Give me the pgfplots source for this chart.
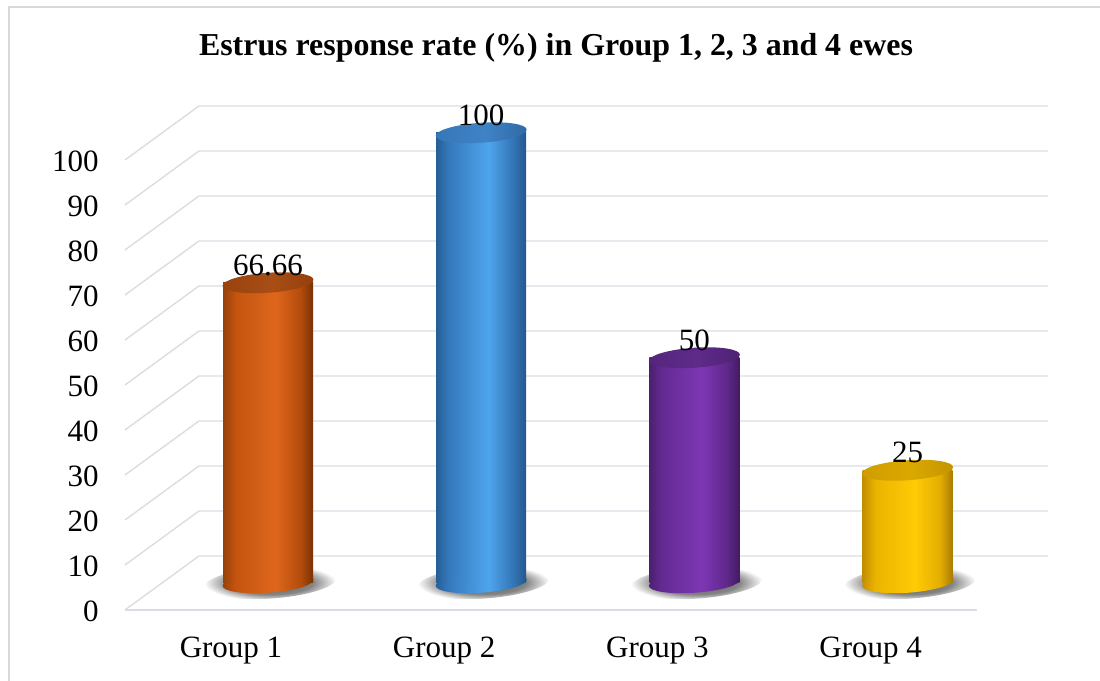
\documentclass[border=0pt]{standalone}
\usepackage{fontspec}
\setmainfont{Liberation Serif}
\usepackage{pgfplots}
\pgfplotsset{compat=1.18}
\usetikzlibrary{shapes.geometric}

\definecolor{gridc}{HTML}{D9DDE3}
\definecolor{framec}{HTML}{D9D9D9}

% cylinder body colours: edge, left, highlight, right, far edge
\definecolor{oE}{HTML}{96400A}\definecolor{oL}{HTML}{C4540F}\definecolor{oH}{HTML}{DE671C}\definecolor{oR}{HTML}{B44B0C}\definecolor{oD}{HTML}{7A3204}
\definecolor{bE}{HTML}{255E96}\definecolor{bL}{HTML}{3579BC}\definecolor{bH}{HTML}{4EA5EC}\definecolor{bR}{HTML}{3274B5}\definecolor{bD}{HTML}{24578B}
\definecolor{pE}{HTML}{4C1F70}\definecolor{pL}{HTML}{632A92}\definecolor{pH}{HTML}{7E37B3}\definecolor{pR}{HTML}{5E288A}\definecolor{pD}{HTML}{431B63}
\definecolor{yE}{HTML}{C28E00}\definecolor{yL}{HTML}{EAB400}\definecolor{yH}{HTML}{FFCB05}\definecolor{yR}{HTML}{E3AD00}\definecolor{yD}{HTML}{A87C00}
% cylinder caps
\definecolor{oT1}{HTML}{98420E}\definecolor{oT2}{HTML}{A84E16}\definecolor{oT3}{HTML}{953F0C}
\definecolor{bT1}{HTML}{3677B8}\definecolor{bT2}{HTML}{3F83C6}\definecolor{bT3}{HTML}{2F6AA6}
\definecolor{pT1}{HTML}{55267D}\definecolor{pT2}{HTML}{5E2B89}\definecolor{pT3}{HTML}{4E2273}
\definecolor{yT1}{HTML}{CF9D00}\definecolor{yT2}{HTML}{DBA800}\definecolor{yT3}{HTML}{C49400}
\definecolor{shd1}{HTML}{555555}\definecolor{shd2}{HTML}{858585}

\newcommand\bodyshading[2]{%
  \pgfdeclarehorizontalshading{#1}{100bp}{color(0bp)=(#2E); color(25bp)=(#2E);
    color(32bp)=(#2L); color(54bp)=(#2H); color(68bp)=(#2R); color(75bp)=(#2D); color(100bp)=(#2D)}}
\newcommand\capshading[2]{%
  \pgfdeclarehorizontalshading{#1}{100bp}{color(0bp)=(#2T1); color(25bp)=(#2T1);
    color(52bp)=(#2T2); color(75bp)=(#2T3); color(100bp)=(#2T3)}}
\bodyshading{bodyO}{o}\bodyshading{bodyB}{b}\bodyshading{bodyP}{p}\bodyshading{bodyY}{y}
\capshading{capO}{o}\capshading{capB}{b}\capshading{capP}{p}\capshading{capY}{y}
\pgfdeclareradialshading{floorshadow}{\pgfpointorigin}{color(0bp)=(shd1); color(16bp)=(shd2); color(25bp)=(white); color(50bp)=(white)}

\pgfplotsset{
  ghost/.style={only marks, mark=text, text mark={}},
  ellnode/.style 2 args={ghost, nodes near coords={},
    every node near coord/.style={ellipse, draw=none, inner sep=0pt, anchor=center,
      minimum width=45.6pt, minimum height=10pt, rotate=4, shade, shading=#1, #2}},
}

\begin{document}
\begin{tikzpicture}
\begin{axis}[
  set layers=standard, mark layer=like plot,
  at={(80.7pt,49.125pt)}, anchor=south west,
  scale only axis, width=426.4pt, height=225pt,
  xmin=0.5, xmax=4.5, ymin=0, ymax=100,
  clip=false,
  axis line style={draw=none}, tick style={draw=none},
  xtick={1,2,3,4},
  xticklabels={Group 1,Group 2,Group 3,Group 4},
  ytick={0,10,...,100},
  /pgf/number format/assume math mode=true,
  tick label style={font=\fontsize{15.5pt}{18pt}\selectfont, inner sep=0pt},
  yticklabel style={anchor=east, xshift=-31.2pt, yshift=-14.5pt},
  xticklabel style={anchor=base, xshift=-18.5pt, yshift=-37.6pt},
]
% walls and floor of the box
\begin{pgfonlayer}{axis background}
\draw[gridc, line width=0.7pt] (axis cs:0.329,-6.06) -- (axis cs:4.326,-6.06);
\draw[gridc, line width=0.7pt] (axis cs:0.329,-6.06) -- (axis cs:0.676,5.94) -- (axis cs:4.659,5.94);
\draw[gridc, line width=0.7pt] (axis cs:0.329,3.94) -- (axis cs:0.676,15.94) -- (axis cs:4.659,15.94);
\draw[gridc, line width=0.7pt] (axis cs:0.329,13.94) -- (axis cs:0.676,25.94) -- (axis cs:4.659,25.94);
\draw[gridc, line width=0.7pt] (axis cs:0.329,23.94) -- (axis cs:0.676,35.94) -- (axis cs:4.659,35.94);
\draw[gridc, line width=0.7pt] (axis cs:0.329,33.94) -- (axis cs:0.676,45.94) -- (axis cs:4.659,45.94);
\draw[gridc, line width=0.7pt] (axis cs:0.329,43.94) -- (axis cs:0.676,55.94) -- (axis cs:4.659,55.94);
\draw[gridc, line width=0.7pt] (axis cs:0.329,53.94) -- (axis cs:0.676,65.94) -- (axis cs:4.659,65.94);
\draw[gridc, line width=0.7pt] (axis cs:0.329,63.94) -- (axis cs:0.676,75.94) -- (axis cs:4.659,75.94);
\draw[gridc, line width=0.7pt] (axis cs:0.329,73.94) -- (axis cs:0.676,85.94) -- (axis cs:4.659,85.94);
\draw[gridc, line width=0.7pt] (axis cs:0.329,83.94) -- (axis cs:0.676,95.94) -- (axis cs:4.659,95.94);
\draw[gridc, line width=0.7pt] (axis cs:0.329,93.94) -- (axis cs:0.676,105.94) -- (axis cs:4.659,105.94);
\end{pgfonlayer}

% floor shadows under the cylinders
\addplot[on layer=pre main, ellnode={floorshadow}{minimum width=66pt, minimum height=16pt, rotate=0, xshift=1.2pt}]
  coordinates {(1,0) (2,0) (3,0) (4,0)};

% Group 1
\addplot[ellnode={bodyO}{}] coordinates {(1,0)};
\addplot[ybar, bar width=45pt, bar shift=0pt, draw=none, shade, shading=bodyO] coordinates {(1,66.66)};
\addplot[ellnode={capO}{}] coordinates {(1,66.66)};
% Group 2
\addplot[ellnode={bodyB}{}] coordinates {(2,0)};
\addplot[ybar, bar width=45pt, bar shift=0pt, draw=none, shade, shading=bodyB] coordinates {(2,100)};
\addplot[ellnode={capB}{}] coordinates {(2,100)};
% Group 3
\addplot[ellnode={bodyP}{}] coordinates {(3,0)};
\addplot[ybar, bar width=45pt, bar shift=0pt, draw=none, shade, shading=bodyP] coordinates {(3,50)};
\addplot[ellnode={capP}{}] coordinates {(3,50)};
% Group 4
\addplot[ellnode={bodyY}{}] coordinates {(4,0)};
\addplot[ybar, bar width=45pt, bar shift=0pt, draw=none, shade, shading=bodyY] coordinates {(4,25)};
\addplot[ellnode={capY}{}] coordinates {(4,25)};

% value labels
\addplot[ghost, point meta=y, nodes near coords,
  every node near coord/.style={anchor=base, yshift=3.7pt, inner sep=0pt, text=black,
    font=\fontsize{15.5pt}{18pt}\selectfont}]
  coordinates {(1,66.66) (2,100) (3,50) (4,25)};
\end{axis}
\pgfresetboundingbox
\useasboundingbox (0,0) rectangle (550pt,340.5pt);
\draw[framec, line width=0.75pt] (4.5pt,0) -- (4.5pt,337pt) -- (550pt,337pt);
\node[anchor=base, inner sep=0pt, font=\fontsize{15.95pt}{19pt}\selectfont\bfseries]
  at (278pt,312.5pt) {Estrus response rate (\%) in Group 1, 2, 3 and 4 ewes};
\end{tikzpicture}
\end{document}
